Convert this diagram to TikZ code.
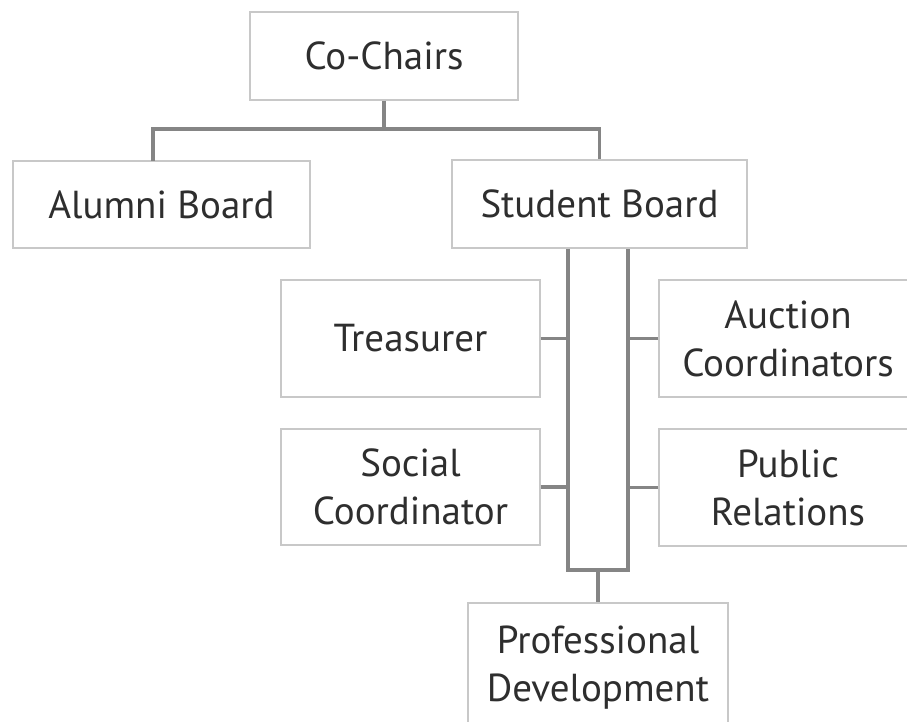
\documentclass[tikz,border=0pt]{standalone}
\usepackage{fontspec}
\setmainfont{PT Sans}
\usetikzlibrary{positioning}
\definecolor{boxline}{HTML}{C8C8C8}
\definecolor{linkline}{HTML}{858585}
\definecolor{boxtext}{HTML}{2E2E2E}
\tikzset{box/.style={draw=boxline, line width=1.3pt, fill=white, text=boxtext, align=center, inner sep=0pt, font=\fontsize{39}{48}\selectfont}, link/.style={draw=linkline, line width=3.5pt}}

\begin{document}
\begin{tikzpicture}[x=1pt, y=-1pt]
    \useasboundingbox (0,0) rectangle (907,722);
    \clip (0,0) rectangle (907,722);
    \fill[white] (0,0) rectangle (907,722);
    \node[box, minimum width=268pt, minimum height=88pt] (cochairs) at (384,56) {Co-Chairs};
    \node[box, minimum width=297pt, minimum height=87pt] (alumni) at (161.5,204.5) {Alumni Board};
    \node[box, minimum width=295pt, minimum height=88pt] (student) at (599.5,204) {Student Board};
    \node[box, minimum width=259pt, minimum height=117pt] (treasurer) at (410.5,338.5) {Treasurer};
    \node[box, minimum width=259pt, minimum height=116pt] (social) at (410.5,487) {Social\\Coordinator};
    \node[box, minimum width=258pt, minimum height=117pt] (auction) at (788,338.5) {Auction\\Coordinators};
    \node[box, minimum width=258pt, minimum height=117pt] (public) at (788,487.5) {Public\\Relations};
    \node[box, minimum width=260pt, minimum height=130pt] (profdev) at (598,668) {Professional\\Development};
    \coordinate (split) at (384,129);
    \coordinate (alumtop) at (153,161);
    \coordinate (barL) at (568,570);
    \coordinate (barR) at (628,570);
    % top level
    \draw[link] (cochairs.south) -- (split);
    \draw[link] (alumtop) -- (alumtop |- split) -- (student.north |- split) -- (student.north);
    % student board bus
    \draw[link] (student.south -| barL) -- (barL) -- (barR) -- (student.south -| barR);
    \draw[link] (treasurer.east) -- (treasurer.east -| barL);
    \draw[link] (social.east) -- (social.east -| barL);
    \draw[link] (auction.west) -- (auction.west -| barR);
    \draw[link] (public.west) -- (public.west -| barR);
    \draw[link] (profdev.north) -- (profdev.north |- barL);
\end{tikzpicture}
\end{document}
